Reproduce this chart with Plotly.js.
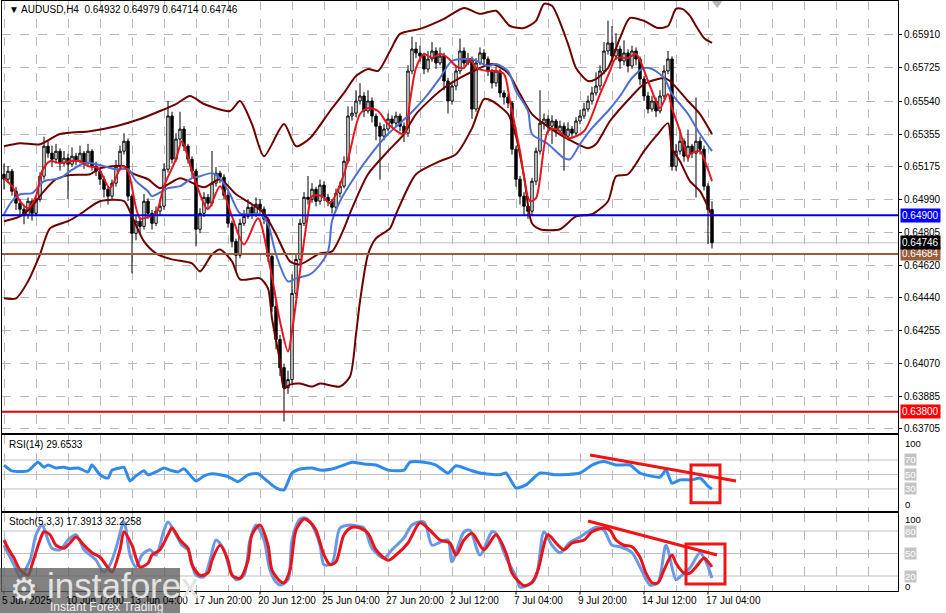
<!DOCTYPE html>
<html><head><meta charset="utf-8">
<script src="https://cdn.plot.ly/plotly-3.0.1.min.js"></script>
<style>html,body{margin:0;padding:0;background:#fff}#chart{width:946px;height:613px}</style>
</head><body><div id="chart"></div>
<script>
// ---------- DATA ----------
const symbolTitle = "▼ AUDUSD,H4  0.64932 0.64979 0.64714 0.64746";
const tickLabels = ["5 Jun 2025","10 Jun 12:00","13 Jun 04:00","17 Jun 20:00","20 Jun 12:00","25 Jun 04:00","27 Jun 20:00","2 Jul 12:00","7 Jul 04:00","9 Jul 20:00","14 Jul 12:00","17 Jul 04:00"];
const priceTicks = [0.65910,0.65725,0.65540,0.65355,0.65175,0.64990,0.64805,0.64620,0.64440,0.64255,0.64070,0.63885,0.63705];

const open = [0.65130,0.65102,0.65147,0.65035,0.64968,0.64934,0.64900,0.64979,0.64911,0.64990,
0.65119,0.65287,0.65248,0.65214,0.65259,0.65192,0.65220,0.65186,0.65231,0.65203,
0.65248,0.65192,0.65259,0.65175,0.65147,0.65102,0.65046,0.65007,0.65080,0.65175,
0.65259,0.65315,0.65007,0.64799,0.64867,0.64838,0.64979,0.64911,0.64855,0.64923,
0.64951,0.65158,0.65456,0.65214,0.65327,0.65383,0.65287,0.65214,0.65147,0.64822,
0.64911,0.65001,0.64968,0.65080,0.65136,0.65113,0.65012,0.64855,0.64754,0.64676,
0.64855,0.64894,0.64945,0.64911,0.64962,0.64934,0.64878,0.64670,0.64390,0.64205,
0.64047,0.63935,0.63980,0.64463,0.64653,0.64855,0.65001,0.64990,0.65046,0.64979,
0.65069,0.65001,0.64979,0.64945,0.65024,0.65063,0.65203,0.65456,0.65472,0.65540,
0.65568,0.65484,0.65540,0.65456,0.65399,0.65343,0.65383,0.65439,0.65416,0.65456,
0.65399,0.65360,0.65708,0.65831,0.65809,0.65792,0.65719,0.65775,0.65820,0.65753,
0.65792,0.65652,0.65540,0.65624,0.65708,0.65820,0.65753,0.65775,0.65495,0.65753,
0.65809,0.65775,0.65708,0.65641,0.65708,0.65585,0.65562,0.65529,0.65270,0.65102,
0.65007,0.64951,0.64923,0.65091,0.65259,0.65416,0.65439,0.65399,0.65428,0.65371,
0.65399,0.65343,0.65383,0.65360,0.65428,0.65456,0.65495,0.65540,0.65585,0.65624,
0.65708,0.65820,0.65865,0.65792,0.65831,0.65764,0.65809,0.65736,0.65820,0.65775,
0.65663,0.65568,0.65495,0.65540,0.65484,0.65568,0.65708,0.65775,0.65175,0.65259,
0.65315,0.65231,0.65287,0.65248,0.65315,0.65270,0.65063,0.64932];

const high = [0.65190,0.65175,0.65160,0.65060,0.64990,0.64960,0.65000,0.64995,0.65010,0.65140,
0.65340,0.65320,0.65290,0.65300,0.65275,0.65260,0.65245,0.65280,0.65250,0.65290,
0.65260,0.65300,0.65270,0.65200,0.65160,0.65120,0.65060,0.65100,0.65210,0.65290,
0.65360,0.65330,0.65020,0.64900,0.64890,0.65020,0.64995,0.64930,0.64950,0.64990,
0.65190,0.65540,0.65480,0.65360,0.65480,0.65400,0.65300,0.65230,0.65160,0.64940,
0.65030,0.65020,0.65260,0.65170,0.65150,0.65130,0.65030,0.64870,0.64770,0.64880,
0.64930,0.64990,0.64960,0.65000,0.64990,0.64950,0.64890,0.64690,0.64420,0.64230,
0.64070,0.64030,0.64570,0.64680,0.64880,0.65030,0.65120,0.65080,0.65060,0.65100,
0.65090,0.65020,0.64990,0.65050,0.65090,0.65230,0.65510,0.65510,0.65600,0.65640,
0.65590,0.65600,0.65560,0.65470,0.65420,0.65410,0.65470,0.65460,0.65480,0.65470,
0.65420,0.65740,0.65900,0.65870,0.65850,0.65810,0.65820,0.65870,0.65840,0.65840,
0.65810,0.65670,0.65650,0.65740,0.65890,0.65840,0.65810,0.65790,0.65780,0.65840,
0.65830,0.65790,0.65720,0.65730,0.65720,0.65600,0.65580,0.65540,0.65290,0.65120,
0.65030,0.64960,0.65110,0.65280,0.65600,0.65470,0.65460,0.65460,0.65440,0.65430,
0.65420,0.65420,0.65400,0.65450,0.65490,0.65530,0.65570,0.65620,0.65700,0.65740,
0.65870,0.65990,0.65960,0.65920,0.65850,0.65880,0.65830,0.65850,0.65840,0.65790,
0.65680,0.65590,0.65570,0.65560,0.65600,0.65740,0.65820,0.65790,0.65300,0.65380,
0.65330,0.65380,0.65300,0.65560,0.65340,0.65290,0.65080,0.64979];

const low = [0.65045,0.65080,0.65010,0.64930,0.64900,0.64850,0.64880,0.64870,0.64895,0.64975,
0.65100,0.65220,0.65170,0.65190,0.65150,0.65175,0.64990,0.65170,0.65180,0.65190,
0.65160,0.65180,0.65150,0.65120,0.65070,0.65000,0.64960,0.64990,0.65060,0.65150,
0.65240,0.64980,0.64575,0.64760,0.64800,0.64820,0.64880,0.64820,0.64840,0.64900,
0.64930,0.65140,0.65190,0.65200,0.65300,0.65260,0.65190,0.65110,0.64726,0.64800,
0.64890,0.64940,0.64950,0.65060,0.65080,0.64990,0.64830,0.64720,0.64586,0.64660,
0.64840,0.64880,0.64880,0.64890,0.64910,0.64850,0.64640,0.64360,0.64150,0.64000,
0.63745,0.63900,0.63960,0.64440,0.64630,0.64840,0.64960,0.64970,0.64950,0.64960,
0.64980,0.64950,0.64910,0.64930,0.65000,0.65050,0.65190,0.65430,0.65450,0.65520,
0.65450,0.65470,0.65420,0.65320,0.65100,0.65320,0.65370,0.65390,0.65400,0.65370,
0.65310,0.65340,0.65690,0.65780,0.65760,0.65690,0.65700,0.65760,0.65720,0.65740,
0.65600,0.65470,0.65520,0.65600,0.65690,0.65730,0.65740,0.65440,0.65480,0.65740,
0.65740,0.65680,0.65610,0.65620,0.65560,0.65520,0.65500,0.65240,0.65060,0.64960,
0.64900,0.64880,0.64900,0.65070,0.65240,0.65380,0.65360,0.65300,0.65340,0.65360,
0.65150,0.65320,0.65330,0.65340,0.65410,0.65440,0.65480,0.65520,0.65570,0.65600,
0.65690,0.65800,0.65760,0.65770,0.65720,0.65740,0.65700,0.65720,0.65740,0.65630,
0.65540,0.65470,0.65480,0.65450,0.65470,0.65550,0.65690,0.65150,0.65150,0.65240,
0.65200,0.65200,0.65220,0.65000,0.65240,0.65040,0.64740,0.64714];

const close = [0.65102,0.65147,0.65035,0.64968,0.64934,0.64900,0.64979,0.64911,0.64990,0.65119,
0.65287,0.65248,0.65214,0.65259,0.65192,0.65220,0.65186,0.65231,0.65203,0.65248,
0.65192,0.65259,0.65175,0.65147,0.65102,0.65046,0.65007,0.65080,0.65175,0.65259,
0.65315,0.65007,0.64799,0.64867,0.64838,0.64979,0.64911,0.64855,0.64923,0.64951,
0.65158,0.65456,0.65214,0.65327,0.65383,0.65287,0.65214,0.65147,0.64822,0.64911,
0.65001,0.64968,0.65080,0.65136,0.65113,0.65012,0.64855,0.64754,0.64676,0.64855,
0.64894,0.64945,0.64911,0.64962,0.64934,0.64878,0.64670,0.64390,0.64205,0.64047,
0.63935,0.63980,0.64463,0.64653,0.64855,0.65001,0.64990,0.65046,0.64979,0.65069,
0.65001,0.64979,0.64945,0.65024,0.65063,0.65203,0.65456,0.65472,0.65540,0.65568,
0.65484,0.65540,0.65456,0.65399,0.65343,0.65383,0.65439,0.65416,0.65456,0.65399,
0.65360,0.65708,0.65831,0.65809,0.65792,0.65719,0.65775,0.65820,0.65753,0.65792,
0.65652,0.65540,0.65624,0.65708,0.65820,0.65753,0.65775,0.65495,0.65753,0.65809,
0.65775,0.65708,0.65641,0.65708,0.65585,0.65562,0.65529,0.65270,0.65102,0.65007,
0.64951,0.64923,0.65091,0.65259,0.65416,0.65439,0.65399,0.65428,0.65371,0.65399,
0.65343,0.65383,0.65360,0.65428,0.65456,0.65495,0.65540,0.65585,0.65624,0.65708,
0.65820,0.65865,0.65792,0.65831,0.65764,0.65809,0.65736,0.65820,0.65775,0.65663,
0.65568,0.65495,0.65540,0.65484,0.65568,0.65708,0.65775,0.65175,0.65259,0.65315,
0.65231,0.65287,0.65248,0.65315,0.65270,0.65063,0.64932,0.64746];

// fast MA (red)
const maFastX = [0,2,4,6,8,9.5,11.5,14,16.5,19,21,23.5,26.5,29.5,31,34,36.5,38,40,43,44.5,47,51,54,57,60,63.5,66.5,69,71,72,74,76,77,79.5,81.5,85,86.5,89,91,93.5,96,100,101.5,103,105,107,109,111,113,115,116.5,118,121,123,125,126.5,129,131.5,133,136,138,141,145,149,151.5,153,156,158,161,163,164,166,167,169,171,171.5,174,175.5,177];
const maFast = [0.65108,0.65063,0.64979,0.64939,0.65007,0.65147,0.65203,0.65192,0.65203,0.65203,0.65175,0.65164,0.65052,0.65175,0.65147,0.64883,0.64894,0.64911,0.65063,0.65214,0.65315,0.65147,0.64934,0.65063,0.64894,0.64737,0.64883,0.64614,0.64306,0.64137,0.64250,0.64586,0.64906,0.65007,0.65007,0.64968,0.65130,0.65259,0.65467,0.65500,0.65484,0.65411,0.65355,0.65540,0.65725,0.65803,0.65781,0.65803,0.65781,0.65736,0.65725,0.65775,0.65725,0.65708,0.65708,0.65691,0.65540,0.65259,0.64979,0.64996,0.65371,0.65383,0.65332,0.65371,0.65579,0.65708,0.65781,0.65781,0.65803,0.65652,0.65540,0.65500,0.65579,0.65500,0.65371,0.65220,0.65242,0.65259,0.65186,0.65091];
// slow MA (blue)
const maSlowX = [0,2,4,7,10,14,16.5,20,22,25,28,31,33,36,37,41,44,47,49,52,54,56.5,59,62,64,66,68,71,73,76.5,78,81,82,84,86.5,91,96,101.5,106,109,112,116,117,121,123,126,128,131,132,136,140,141.5,144,147,151,154,157,160,162,165,167,171,174,177];
const maSlow = [0.64906,0.64979,0.65018,0.65024,0.65091,0.65108,0.65147,0.65192,0.65192,0.65175,0.65158,0.65158,0.65091,0.65035,0.65007,0.65052,0.65063,0.65108,0.65119,0.65136,0.65108,0.65018,0.64911,0.64906,0.64906,0.64850,0.64681,0.64530,0.64547,0.64569,0.64597,0.64698,0.64867,0.64979,0.65074,0.65220,0.65355,0.65467,0.65579,0.65669,0.65764,0.65775,0.65775,0.65736,0.65747,0.65708,0.65596,0.65484,0.65355,0.65299,0.65220,0.65214,0.65299,0.65388,0.65484,0.65568,0.65669,0.65725,0.65719,0.65669,0.65579,0.65467,0.65355,0.65259];
// Bollinger bands
const bbUpperX = [0,4,9,14,21.5,28,34,39,43,46.5,50,56.5,59,62,65,70,73,76.5,81.5,85,88,91,93.5,96.5,99,104,110,115,119,123,126.5,130,133,135,137,141,143,146,148,151,154,156.5,160,163.5,166,168,169.5,171.5,173,175,177];
const bbUpper = [0.65287,0.65304,0.65298,0.65355,0.65371,0.65399,0.65439,0.65484,0.65523,0.65568,0.65523,0.65484,0.65540,0.65411,0.65231,0.65411,0.65287,0.65332,0.65484,0.65585,0.65680,0.65719,0.65708,0.65820,0.65916,0.65944,0.66000,0.66061,0.66028,0.66045,0.65960,0.65949,0.65989,0.66084,0.66073,0.65860,0.65725,0.65652,0.65663,0.65725,0.65893,0.66005,0.65989,0.65949,0.65960,0.66056,0.66056,0.66017,0.65960,0.65893,0.65865];
const bbMidX = [0,4,7,10,13,16.5,21.5,24,30,32,36,39,44,50,54,58,62,65,68,71.5,74,79,82,85,87,91,96,100,103,109,114,119,122,126,129,132,136.5,141,146,148,151.5,156.5,160,165,166.5,171,174,177];
const bbMid = [0.64867,0.64894,0.64951,0.65035,0.65102,0.65125,0.65130,0.65164,0.65175,0.65136,0.65102,0.65052,0.65108,0.65057,0.65102,0.65018,0.64962,0.64911,0.64794,0.64642,0.64625,0.64687,0.64698,0.64827,0.64939,0.65130,0.65259,0.65355,0.65467,0.65596,0.65669,0.65725,0.65747,0.65697,0.65579,0.65467,0.65388,0.65327,0.65276,0.65299,0.65428,0.65557,0.65635,0.65669,0.65652,0.65540,0.65467,0.65355];
const bbLowX = [0,3,6,9,11.5,16,19,24,30,32,35,38,42,47,49,52,54,57,59,64,66,67,69,70,71.5,74,77,79,84,86.5,88,89,91,93,96.5,98,103,109,113,117,120,122,126,128,130,132,134,139,143,147,151,153,156,160,163,166,167,169,171.5,174,177];
const bbLow = [0.64435,0.64435,0.64530,0.64681,0.64827,0.64867,0.64906,0.64979,0.64979,0.64894,0.64754,0.64687,0.64653,0.64631,0.64586,0.64681,0.64709,0.64642,0.64541,0.64547,0.64491,0.64322,0.64081,0.63930,0.63952,0.63958,0.63941,0.63958,0.63941,0.63997,0.64233,0.64418,0.64681,0.64771,0.64827,0.64906,0.65130,0.65203,0.65242,0.65388,0.65551,0.65540,0.65467,0.65343,0.65119,0.64855,0.64822,0.64822,0.64894,0.64906,0.64979,0.65119,0.65130,0.65259,0.65343,0.65416,0.65276,0.65203,0.65091,0.65035,0.64894];
// horizontal levels
const levelPrices = [0.64900, 0.64684, 0.63800];
const levelColors = ['#0000D8', '#9A5C3A', '#E60000'];
const tagColors = ['#0000FF', '#9A5C3A', '#FF0000'];
const bidPrice = 0.64746;
// RSI(14)
const rsiX = [0,2,6,8.5,10,11,13,15,16.5,18.5,21,22,24,26,27,29,30,31.5,33,35,36,38,40,41.5,43.5,45,48,50,52,56,58.5,61,63.5,66,68,70,72,74,77,79,82,85,87,90,93,96,100,101.5,105,108,111,113,116.5,119,124,125.5,128,130.5,134,138,144,147,150,153,156.5,159,164,165.5,167,169,172,174,176,177];
const rsi = [63,55,55,67,60,63,59,60,58,59,53.5,63,49.5,45,56,59,60,41,48,55,49.5,53.5,59,56,53.5,58,41,48,51,47,40,49.5,51,40,31.5,28.7,52,57.5,59,56,57.5,63,67,64.5,63,56,56,67,67,63,52,62,56,52,49.5,52,31.5,35.5,52,49.5,52,63,68,63,63,52,46.5,56,38,42.5,42.5,45,34,29.6533];
const rsiLevels = [70, 50, 30];
// Stochastic(5,3,3)
const stochKX = [0,2.5,4,6.5,8,9.5,11,12,14,16,18,20,21.5,23,25,26.5,28,30,31.5,33,34.5,36.5,38,40,41,43,44.5,46,48,50,51.5,53,55,56.5,58,60,61.5,63,65,66.5,68,69,71,72,74,75.5,77,79,80,82,84,86.5,88,90,92,95,97,100,102,105,107,109,111,112,115,116.5,119,122,123,125.5,128,129,131,133,135,137,139,141.5,144,146.5,148,150,152,154,157,159,161.5,163.5,165.5,168,169,171.5,174,175.5,177];
const stochK = [61,35,19,41,75,88,68,57,55,68,75,55,48,41,25,35,57,92,48,32,48,55,48,81,92,75,61,55,21,19,41,68,55,28,15,21,68,88,68,28,12,8,15,68,96,97,88,61,35,37,84,88,87,84,57,44,55,71,88,92,61,65,68,39,79,81,48,79,77,45,19,5,8,19,79,61,51,65,72,81,85,81,61,59,51,32,8,11,61,15,19,31,51,39,17.3913];
const stochDX = [0,1,2.5,4,6,7,9,10,11.5,13,15,16.5,18,20,22,24,26,27,29,30,32,34,36,37,39,41,42,44,46,47,49,51,52,54,56,57,59,61,62,64,66,67,69,70,71.5,73,75,76.5,78,80,81.5,83,85,87,89,91,93,96,98,101,104,106.5,109,111.5,113,115,117,120,123,125.5,127,129,130,132,133.5,136,138,140,142,145,147,150,151.5,153,155,157,159,160.5,162,163.5,165,167,168,170,171.5,173,175,176,177];
const stochD = [68,57,44,28,21,35,68,79,75,61,57,64,72,61,51,45,31,25,55,79,61,32,37,48,55,75,84,68,57,35,21,24,41,61,41,21,17,41,75,88,61,28,13,11,28,81,96,92,81,48,35,39,75,85,84,77,55,41,48,64,91,81,68,64,48,68,77,55,75,51,24,11,7,11,28,75,64,55,64,68,79,84,81,68,61,59,45,24,11,11,28,48,37,24,24,32,44,39,32.2258];
const stochLevels = [80, 50, 20];

// ---------- CHART ----------
const barIndex = close.map((_, i) => i);
const gridVals = []; for (let v = 0; v <= 216; v += 8) gridVals.push(v);
const FONT = 'Liberation Sans, Arial, sans-serif';

const baseX = {range: [-0.5, 223.5], tickvals: gridVals, showgrid: true, gridcolor: '#B8B8B8', griddash: 'dash', gridwidth: 1,
  zeroline: false, showline: true, mirror: true, linecolor: '#000', linewidth: 1, ticks: '', showticklabels: false, fixedrange: true};

const traces = [
  {type: 'candlestick', x: barIndex, open: open, high: high, low: low, close: close, xaxis: 'x', yaxis: 'y',
   increasing: {line: {color: '#000', width: 1}, fillcolor: '#FFFFFF'},
   decreasing: {line: {color: '#000', width: 1}, fillcolor: '#000000'}, whiskerwidth: 0, hoverinfo: 'skip'},
  {type: 'scatter', mode: 'lines', x: bbUpperX, y: bbUpper, xaxis: 'x', yaxis: 'y', line: {color: '#6E0000', width: 2, shape: 'spline', smoothing: 0.7}},
  {type: 'scatter', mode: 'lines', x: bbMidX, y: bbMid, xaxis: 'x', yaxis: 'y', line: {color: '#6E0000', width: 2, shape: 'spline', smoothing: 0.7}},
  {type: 'scatter', mode: 'lines', x: bbLowX, y: bbLow, xaxis: 'x', yaxis: 'y', line: {color: '#6E0000', width: 2, shape: 'spline', smoothing: 0.7}},
  {type: 'scatter', mode: 'lines', x: maSlowX, y: maSlow, xaxis: 'x', yaxis: 'y', line: {color: '#4C6FD5', width: 2, shape: 'spline', smoothing: 0.8}},
  {type: 'scatter', mode: 'lines', x: maFastX, y: maFast, xaxis: 'x', yaxis: 'y', line: {color: '#E8141B', width: 2, shape: 'spline', smoothing: 0.8}},
  {type: 'scatter', mode: 'lines', x: rsiX, y: rsi, xaxis: 'x2', yaxis: 'y2', line: {color: '#2F8BEA', width: 3, shape: 'spline', smoothing: 0.6}},
  {type: 'scatter', mode: 'lines', x: stochKX, y: stochK, xaxis: 'x3', yaxis: 'y3', line: {color: '#6A98E4', width: 3, shape: 'spline', smoothing: 0.8}},
  {type: 'scatter', mode: 'lines', x: stochDX, y: stochD, xaxis: 'x3', yaxis: 'y3', line: {color: '#E8141B', width: 3, shape: 'spline', smoothing: 0.8}}
];

const shapes = [];
shapes.push({type: 'line', xref: 'x', yref: 'y', x0: -0.5, x1: 223.5, y0: bidPrice, y1: bidPrice, line: {color: '#C0C0C0', width: 1}, layer: 'below'});
levelPrices.forEach((p, k) => shapes.push({type: 'line', xref: 'x', yref: 'y', x0: -0.5, x1: 223.5, y0: p, y1: p, line: {color: levelColors[k], width: 2}}));
rsiLevels.forEach(v => shapes.push({type: 'line', xref: 'x2', yref: 'y2', x0: -0.5, x1: 223.5, y0: v, y1: v, line: {color: '#C0C0C0', width: 1}, layer: 'below'}));
stochLevels.forEach(v => shapes.push({type: 'line', xref: 'x3', yref: 'y3', x0: -0.5, x1: 223.5, y0: v, y1: v, line: {color: '#C0C0C0', width: 1}, layer: 'below'}));
// hand-drawn divergence marks
shapes.push({type: 'line', xref: 'x2', yref: 'y2', x0: 146.5, y0: 77, x1: 183, y1: 41, line: {color: '#F01414', width: 3}});
shapes.push({type: 'rect', xref: 'x2', yref: 'y2', x0: 171.75, x1: 179, y0: 10.8, y1: 63.2, line: {color: '#F01414', width: 3}});
shapes.push({type: 'line', xref: 'x3', yref: 'y3', x0: 146, y0: 93.3, x1: 178.25, y1: 48, line: {color: '#F01414', width: 3}});
shapes.push({type: 'rect', xref: 'x3', yref: 'y3', x0: 170.5, x1: 180.25, y0: 9.3, y1: 62.7, line: {color: '#F01414', width: 3}});
// chart-shift marker
shapes.push({type: 'path', xref: 'x', yref: 'paper', path: 'M 177,1 L 179.6,1 L 178.3,0.988 Z', fillcolor: '#B4B4B4', line: {width: 0}});
// small ticks under the time labels
tickLabels.forEach((t, k) => shapes.push({type: 'line', xref: 'x3', yref: 'paper', x0: k * 16, x1: k * 16, y0: 0, y1: -0.006, line: {color: '#000', width: 1}}));
// watermark box
shapes.push({type: 'rect', xref: 'paper', yref: 'paper', x0: -0.003, x1: 0.1987, y0: -0.04, y1: 0.039, fillcolor: 'rgba(95,95,95,0.78)', line: {width: 0}, layer: 'above'});

const annotations = [];
const ann = (o) => annotations.push(Object.assign({showarrow: false, font: {family: FONT, size: 10, color: '#000'}}, o));
ann({xref: 'paper', yref: 'paper', x: 0.0056, y: 0.986, xanchor: 'left', yanchor: 'middle', text: symbolTitle});
ann({xref: 'paper', yref: 'paper', x: 0.0056, y: 0.249, xanchor: 'left', yanchor: 'middle', text: 'RSI(14) 29.6533'});
ann({xref: 'paper', yref: 'paper', x: 0.0056, y: 0.117, xanchor: 'left', yanchor: 'middle', text: 'Stoch(5,3,3) 17.3913 32.2258'});
// time labels (left-aligned at their tick, as in the terminal)
tickLabels.forEach((t, k) => ann({xref: 'x3', yref: 'paper', x: k * 16, y: -0.0155, xanchor: 'left', yanchor: 'middle', xshift: -3, text: t, borderpad: 0}));
// price tags
levelPrices.forEach((p, k) => ann({xref: 'paper', yref: 'y', x: 1, y: p, xanchor: 'left', yanchor: 'middle', xshift: 2, text: p.toFixed(5), bgcolor: tagColors[k], borderpad: 1, font: {family: FONT, size: 10, color: '#FFF'}}));
ann({xref: 'paper', yref: 'y', x: 1, y: bidPrice, xanchor: 'left', yanchor: 'middle', xshift: 2, text: bidPrice.toFixed(5), bgcolor: '#000', borderpad: 1, font: {family: FONT, size: 10, color: '#FFF'}});
// sub-window scales
[[93.4, '100', false], [70, '70', true], [50, '50', true], [30, '30', true], [8.5, '0', false]].forEach(a =>
  ann({xref: 'paper', yref: 'y2', x: 1, y: a[0], xanchor: 'left', yanchor: 'middle', xshift: 6, text: a[1], bgcolor: a[2] ? '#C4C4C4' : 'rgba(0,0,0,0)', borderpad: 0, font: {family: FONT, size: 9.5, color: a[2] ? '#FFF' : '#000'}}));
[[95, '100', false], [80, '80', true], [50, '50', true], [20, '20', true], [6.5, '0', false]].forEach(a =>
  ann({xref: 'paper', yref: 'y3', x: 1, y: a[0], xanchor: 'left', yanchor: 'middle', xshift: 6, text: a[1], bgcolor: a[2] ? '#C4C4C4' : 'rgba(0,0,0,0)', borderpad: 0, font: {family: FONT, size: 9.5, color: a[2] ? '#FFF' : '#000'}}));
// watermark text
ann({xref: 'paper', yref: 'paper', x: 0.0245, y: 0.003, xanchor: 'center', yanchor: 'middle', text: '⚙', font: {family: 'DejaVu Sans', size: 31, color: '#E6E6E6'}});
ann({xref: 'paper', yref: 'paper', x: 0.0485, y: 0.010, xanchor: 'left', yanchor: 'middle', text: 'instaforex', font: {family: FONT, size: 35, color: '#E2E2E2'}});
ann({xref: 'paper', yref: 'paper', x: 0.051, y: -0.0265, xanchor: 'left', yanchor: 'middle', text: 'Instant Forex Trading', font: {family: FONT, size: 12, color: '#F0F0F0'}});

const layout = {
  width: 946, height: 613, margin: {l: 2, r: 48, t: 1, b: 22},
  paper_bgcolor: '#FFFFFF', plot_bgcolor: '#FFFFFF', showlegend: false, boxgap: 0.15,
  font: {family: FONT, size: 10, color: '#000'},
  xaxis: Object.assign({}, baseX, {anchor: 'y', rangeslider: {visible: false}}),
  xaxis2: Object.assign({}, baseX, {anchor: 'y2', matches: 'x'}),
  xaxis3: Object.assign({}, baseX, {anchor: 'y3', matches: 'x'}),
  yaxis: {domain: [0.2678, 1], anchor: 'x', side: 'right', range: [0.63681, 0.66100], tickvals: priceTicks, tickformat: '.5f',
    showgrid: true, gridcolor: '#B8B8B8', griddash: 'dash', zeroline: false, showline: true, mirror: true, linecolor: '#000', linewidth: 1,
    ticks: 'outside', ticklen: 3, tickcolor: '#000', tickfont: {family: FONT, size: 10, color: '#000'}, fixedrange: true},
  yaxis2: {domain: [0.1356, 0.2644], anchor: 'x2', side: 'right', range: [-0.5, 104.5], showgrid: false, zeroline: false, showticklabels: false,
    showline: true, mirror: true, linecolor: '#000', linewidth: 1, ticks: '', fixedrange: true},
  yaxis3: {domain: [0, 0.1322], anchor: 'x3', side: 'right', range: [0, 104], showgrid: false, zeroline: false, showticklabels: false,
    showline: true, mirror: true, linecolor: '#000', linewidth: 1, ticks: '', fixedrange: true},
  shapes: shapes, annotations: annotations
};

Plotly.newPlot('chart', traces, layout, {staticPlot: true, displayModeBar: false});
</script>
</body></html>
